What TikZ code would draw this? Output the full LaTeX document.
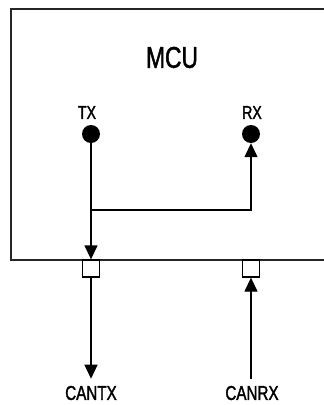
\documentclass[tikz,border=0pt]{standalone}
\usepackage{fontspec}
\setmainfont[FakeStretch=0.76,FakeBold=1.6]{Liberation Sans}
\usetikzlibrary{arrows.meta}
\begin{document}
\begin{tikzpicture}[x=1pt,y=-1pt,
  conn/.style={line width=1.3pt},
  arr/.style={conn,-{Triangle[length=14pt,width=13pt]}},
  pindot/.style={circle,fill=black,inner sep=0pt,minimum size=18pt},
  pinsq/.style={rectangle,draw,line width=1.3pt,fill=white,inner sep=0pt,minimum size=17pt},
  lblsmall/.style={inner sep=0pt,font=\fontsize{18.5}{19}\selectfont},
  lblbig/.style={inner sep=0pt,font=\fontsize{20}{21}\selectfont},
  lblmcu/.style={inner sep=0pt,font=\fontsize{30}{31}\selectfont}]
\useasboundingbox (0,0) rectangle (324,405);
\clip (0,0) rectangle (324,405);
% MCU box (open to the right)
\draw[line width=1.4pt,draw=black!85] (340,260) -- (11,260) -- (11,9) -- (340,9);
\node[lblmcu] (mcu) at (172,57.5) {MCU};
\node[lblsmall] (txl) at (87,112.5) {TX};
\node[lblsmall] (rxl) at (252,112.5) {RX};
\node[pindot] (tx) at (91,134) {};
\node[pindot] (rx) at (251,134) {};
\node[pinsq] (txsq) at (91,268.5) {};
\node[pinsq] (rxsq) at (251,268.5) {};
\node[lblbig] (cantx) at (91,393) {CANTX};
\node[lblbig] (canrx) at (252,393) {CANRX};
\coordinate (j) at (91,210);
\draw[arr] (tx) -- (txsq.north);
\draw[arr] (j) -| (rx.south);
\draw[arr,shorten >=7pt] (txsq.south) -- (cantx.north);
\draw[arr,shorten <=7pt] (rxsq.south |- canrx.north) -- (rxsq.south);
\end{tikzpicture}
\end{document}
